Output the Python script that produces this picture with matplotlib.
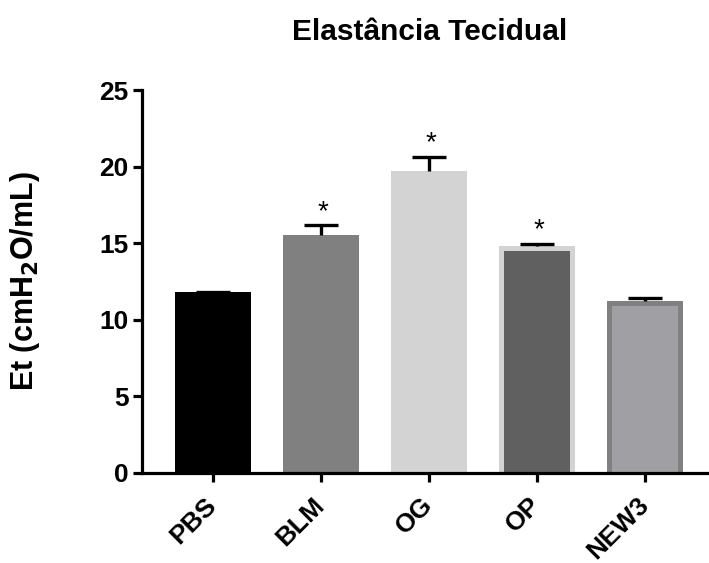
import matplotlib
matplotlib.use('Agg')
import matplotlib.pyplot as plt

plt.rcParams['font.family'] = ['Liberation Sans', 'DejaVu Sans']
plt.rcParams['font.weight'] = 'bold'

groups = ['PBS', 'BLM', 'OG', 'OP', 'NEW3']
means = [11.8, 15.55, 19.7, 14.84, 11.25]
errors = [0.0, 0.62, 0.95, 0.12, 0.15]
significant = [False, True, True, True, False]
fill_colors = ['#000000', '#808080', '#d3d3d3', '#606060', '#a0a0a4']
border_colors = ['#000000', '#808080', '#d3d3d3', '#d3d3d3', '#808080']
has_border = [False, False, False, True, True]

W = 0.71
fig = plt.figure(figsize=(7.09, 5.63), dpi=100)
ax = fig.add_axes([0.2003, 0.16, 0.80, 0.68])

x = list(range(len(groups)))
# outer bar in the border colour, inner bar drawn on top for the framed ones
ax.bar(x, means, width=W, color=border_colors, linewidth=0, zorder=2)
for xi, m, c, b in zip(x, means, fill_colors, has_border):
    if b:
        ax.bar(xi, m - 0.36, width=W - 0.105, color=c, linewidth=0, zorder=2.5)
    else:
        ax.bar(xi, m, width=W, color=c, linewidth=0, zorder=2.5)

eb = ax.errorbar(x, means, yerr=[[0] * len(errors), errors], fmt='none',
                 ecolor='black', elinewidth=2.4, capsize=12.5, capthick=2.4, zorder=3)
eb[1][0].set_visible(False)

for xi, m, e, s in zip(x, means, errors, significant):
    if s:
        ax.text(xi + 0.02, m + e + 0.4, '*', ha='center', va='baseline',
                fontsize=20, fontweight='normal')

ax.set_xlim(-0.657, 4.593)
ax.set_ylim(0, 25)
ax.set_yticks([0, 5, 10, 15, 20, 25])
ax.set_xticks(x)
ax.set_xticklabels(groups, rotation=45, ha='right', va='center', rotation_mode='anchor')

for side in ['top', 'right']:
    ax.spines[side].set_visible(False)
for side in ['left', 'bottom']:
    ax.spines[side].set_linewidth(2.3)
ax.tick_params(axis='both', width=2.3, length=6.5)
ax.tick_params(axis='y', labelsize=19, pad=3)
ax.tick_params(axis='x', labelsize=19, pad=14)

ax.set_ylabel('Et (cmH$_\\mathbf{2}$O/mL)', fontsize=22, fontweight='bold')
ax.yaxis.set_label_coords(-0.176, 0.5)
fig.text(0.606, 0.943, 'Elastância Tecidual', ha='center', va='center',
         fontsize=21.5, fontweight='bold')

fig.savefig('out.png', dpi=100)
